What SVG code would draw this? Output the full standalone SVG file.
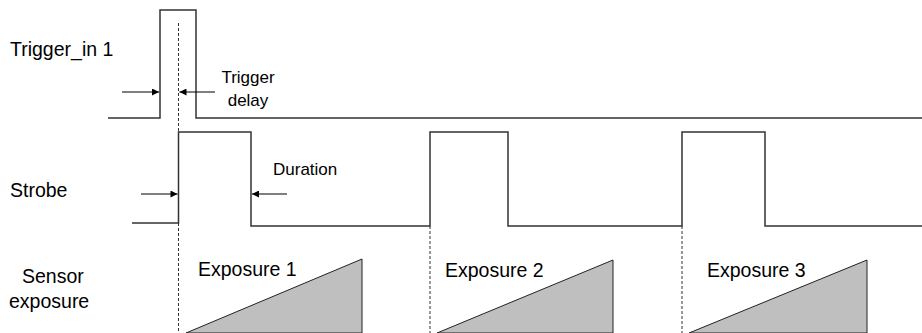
<svg xmlns="http://www.w3.org/2000/svg" width="922" height="333" viewBox="0 0 922 333">
<defs>
<marker id="ah" viewBox="0 0 10 10" refX="10" refY="5" markerWidth="8" markerHeight="7" markerUnits="userSpaceOnUse" orient="auto">
<path d="M0,0 L10,5 L0,10 z" fill="#000"/>
</marker>
<style>
.lbl{font-family:"Liberation Sans",Arial,sans-serif;font-size:19.5px;fill:#000}
.sm{font-family:"Liberation Sans",Arial,sans-serif;font-size:17px;fill:#000}
.sig{fill:none;stroke:#333;stroke-width:1.5}
.dash{fill:none;stroke:#333;stroke-width:1;stroke-dasharray:3 2}
.arr{fill:none;stroke:#000;stroke-width:1.2;marker-end:url(#ah)}
.tri{fill:#bfbfbf;stroke:#222;stroke-width:1}
</style>
</defs>
<rect width="922" height="333" fill="#fff"/>
<g id="labels">
<text class="lbl" x="10" y="56">Trigger_in 1</text>
<text class="lbl" x="10" y="197">Strobe</text>
<text class="lbl" x="22" y="283">Sensor</text>
<text class="lbl" x="9" y="308">exposure</text>
</g>
<g id="trigger">
<path class="sig" d="M108,118 H160 V10 H196 V118 H922"/>
</g>
<g id="strobe">
<path class="sig" d="M132,223 H178.5 V132 H251 V226 H430 V132 H508 V226 H682 V132 H765 V226 H922"/>
</g>
<g id="exposure1">
<polygon class="tri" points="186,333 362,259 362,333"/>
<text class="lbl" x="198" y="276">Exposure 1</text>
</g>
<g id="exposure2">
<polygon class="tri" points="437,333 613,260 613,333"/>
<text class="lbl" x="445" y="277">Exposure 2</text>
</g>
<g id="exposure3">
<polygon class="tri" points="689,333 867,260 867,333"/>
<text class="lbl" x="707" y="277">Exposure 3</text>
</g>
<g id="connectors">
<line class="dash" x1="178.5" y1="23" x2="178.5" y2="333"/>
<line class="dash" x1="430" y1="226" x2="430" y2="333"/>
<line class="dash" x1="682" y1="226" x2="682" y2="333"/>
<line class="arr" x1="122" y1="92" x2="159" y2="92"/>
<line class="arr" x1="215" y1="92" x2="179.5" y2="92"/>
<line class="arr" x1="141" y1="194" x2="177.5" y2="194"/>
<line class="arr" x1="287" y1="194" x2="252" y2="194"/>
</g>
<g id="annotations">
<text class="sm" x="248" y="83" text-anchor="middle">Trigger</text>
<text class="sm" x="248" y="106" text-anchor="middle">delay</text>
<text class="sm" x="273" y="175">Duration</text>
</g>
</svg>
